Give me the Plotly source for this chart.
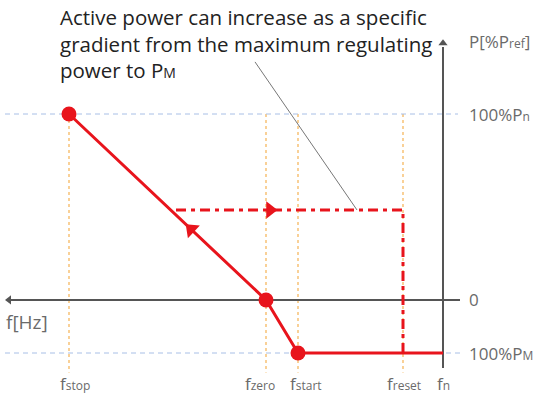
import plotly.graph_objects as go
import numpy as np

# ---------------- data (arbitrary units) ----------------
f_names = ["stop", "zero", "start", "reset", "n"]
f_values = [374, 177, 145, 40, 0]          # frequency positions (f increases to the left)
P_n = 100.0
P_M = -28.5
P_recover = 48.4                            # level of the dashed recovery path
f_recover_begin = 267                       # start of dashed recovery path
note_text = ("Active power can increase as a specific<br>"
             "gradient from the maximum regulating<br>"
             "power to P<span style='font-size:14px'>M</span>")

f = dict(zip(f_names, f_values))
label_shift = {"stop": -6, "zero": 6, "start": -8, "reset": -1, "n": 0}

RED = "#E8141C"
GRAY = "#555555"
LABEL = "#6a6a6a"
ORANGE = "#F6B860"
BLUE = "#A8BFE6"
FONT = "Open Sans"

fig = go.Figure()

# guide lines
for name in ["stop", "zero", "start", "reset"]:
    fig.add_trace(go.Scatter(x=[f[name], f[name]], y=[P_n, -39], mode="lines",
                             line=dict(color=ORANGE, width=1.3, dash="3px,3px"),
                             hoverinfo="skip", showlegend=False))
fig.add_trace(go.Scatter(x=[438, -15], y=[P_n, P_n], mode="lines",
                         line=dict(color=BLUE, width=1, dash="5px,4px"),
                         hoverinfo="skip", showlegend=False))
fig.add_trace(go.Scatter(x=[438, -20], y=[P_M, P_M], mode="lines",
                         line=dict(color=BLUE, width=1, dash="5px,4px"),
                         hoverinfo="skip", showlegend=False))

# axes
fig.add_trace(go.Scatter(x=[432, -17], y=[0, 0], mode="lines",
                         line=dict(color=GRAY, width=2), hoverinfo="skip", showlegend=False))
fig.add_trace(go.Scatter(x=[434], y=[0], mode="markers",
                         marker=dict(symbol="triangle-left", size=8, color=GRAY),
                         hoverinfo="skip", showlegend=False))
fig.add_trace(go.Scatter(x=[0, 0], y=[-36.6, 136], mode="lines",
                         line=dict(color=GRAY, width=2), hoverinfo="skip", showlegend=False))
fig.add_trace(go.Scatter(x=[0], y=[138], mode="markers",
                         marker=dict(symbol="triangle-up", size=8, color=GRAY),
                         hoverinfo="skip", showlegend=False))

# annotation leader line
fig.add_trace(go.Scatter(x=[188, 86], y=[128, P_recover], mode="lines",
                         line=dict(color="#777777", width=1), hoverinfo="skip", showlegend=False))

# dashed recovery path
fig.add_trace(go.Scatter(x=[f_recover_begin, f["reset"], f["reset"]],
                         y=[P_recover, P_recover, P_M], mode="lines",
                         line=dict(color=RED, width=3, dash="10px,5px,4px,5px"),
                         hoverinfo="skip", showlegend=False))
fig.add_trace(go.Scatter(x=[f["zero"] - 4], y=[P_recover], mode="markers",
                         marker=dict(symbol="triangle-right", size=15, color=RED),
                         hoverinfo="skip", showlegend=False))

# main characteristic
xs = [f["stop"], f["zero"], f["start"], f["n"]]
ys = [P_n, 0, P_M, P_M]
fig.add_trace(go.Scatter(x=xs, y=ys, mode="lines",
                         line=dict(color=RED, width=3), hoverinfo="skip", showlegend=False))
fig.add_trace(go.Scatter(x=xs[:3], y=ys[:3], mode="markers",
                         marker=dict(size=15, color=RED), hoverinfo="skip", showlegend=False))
t = 0.38
ax_ = f["zero"] + t * (f["stop"] - f["zero"])
ay_ = 0 + t * (P_n - 0)
fig.add_trace(go.Scatter(x=[ax_], y=[ay_], mode="markers",
                         marker=dict(symbol="triangle-up", size=15, color=RED, angle=-46.6),
                         hoverinfo="skip", showlegend=False))

# text
ann = []
ann.append(dict(x=58 / 542, y=1 - 1 / 399, xref="paper", yref="paper", text=note_text, showarrow=False,
                xanchor="left", yanchor="top", align="left",
                font=dict(family=FONT, size=20.5, color="#222222")))
sub = "<span style='font-size:12px'>%s</span>"
right_labels = [(139, "P[%P" + sub % "ref" + "]"), (P_n, "100%P" + sub % "n"),
                (0, "0"), (P_M, "100%P" + sub % "M")]
for yv, txt in right_labels:
    ann.append(dict(x=-24, y=yv, xref="x", yref="y", text=txt, showarrow=False,
                    xanchor="left", yanchor="middle",
                    font=dict(family=FONT, size=17, color=LABEL)))
ann.append(dict(x=439, y=-12, xref="x", yref="y", text="f[Hz]", showarrow=False,
                xanchor="left", yanchor="middle", font=dict(family=FONT, size=19, color=LABEL)))
for name in f_names:
    ann.append(dict(x=f[name] + label_shift[name], y=-45, xref="x", yref="y",
                    text="f" + sub % name,
                    showarrow=False, xanchor="center", yanchor="middle",
                    font=dict(family=FONT, size=17, color=LABEL)))

fig.update_layout(
    width=542, height=399, margin=dict(l=0, r=0, t=0, b=0),
    paper_bgcolor="white", plot_bgcolor="white",
    xaxis=dict(range=[443, -99], visible=False, fixedrange=True),
    yaxis=dict(range=[-53.23, 161.29], visible=False, fixedrange=True),
    annotations=ann, showlegend=False,
)
fig.write_html("out.html", config={"displayModeBar": False},
               post_script="document.body.style.margin='0';document.body.style.overflow='hidden';")
